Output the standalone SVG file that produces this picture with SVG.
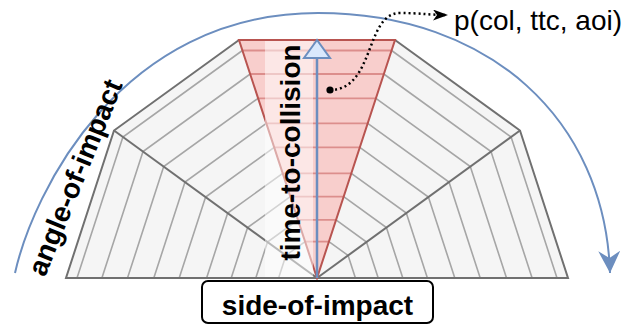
<svg xmlns="http://www.w3.org/2000/svg" width="637" height="328" viewBox="0 0 637 328">
<style>
.grey{fill:#f5f5f5;stroke:none}
.ring{fill:none;stroke:#a6a6a6;stroke-width:1.6}
.edge{fill:none;stroke:#707070;stroke-width:2;stroke-linejoin:miter}
.rring{fill:none;stroke:#dc8e8c;stroke-width:1.8}
.redge{fill:none;stroke:#b85450;stroke-width:2}
.lbl{font-family:"Liberation Sans",Arial,Helvetica,sans-serif;font-size:28px;fill:#000}
.b{font-weight:bold}
</style>
<defs>
<marker id="blueHead" viewBox="0 0 22 22" refX="22" refY="11" markerWidth="22" markerHeight="22" markerUnits="userSpaceOnUse" orient="auto">
<path d="M0,0 L22,11 L0,22 L7,11 Z" fill="#6c8ebf" stroke="none"/>
</marker>
<marker id="blackHead" viewBox="0 0 15 11" refX="15" refY="5.5" markerWidth="15" markerHeight="11" markerUnits="userSpaceOnUse" orient="auto">
<path d="M0,0 L15,5.5 L0,11 L4,5.5 Z" fill="#000" stroke="none"/>
</marker>
</defs>

<g id="grey-sectors">
<polygon class="grey" points="317,278 66,278 114,130.5 239,40 395,40 520,130.5 568,278"/>
<g id="grey-rings">
<polyline class="ring" points="77,278 122.9,137 242.4,50.5"/>
<polyline class="ring" points="101.9,278 143,151.6 250.2,74"/>
<polyline class="ring" points="127.5,278 163.7,166.6 258.1,98.3"/>
<polyline class="ring" points="153.8,278 185,182.1 266.3,123.3"/>
<polyline class="ring" points="179.2,278 205.6,197 274.2,147.3"/>
<polyline class="ring" points="206.6,278 227.7,213.1 282.7,173.3"/>
<polyline class="ring" points="231.2,278 247.6,227.6 290.3,196.6"/>
<polyline class="ring" points="255.8,278 267.5,242 298,219.9"/>
<polyline class="ring" points="278.6,278 285.9,255.4 305.1,241.6"/>
<polyline class="ring" points="557,278 511.1,137 391.6,50.5"/>
<polyline class="ring" points="532.1,278 491,151.6 383.8,74"/>
<polyline class="ring" points="506.5,278 470.3,166.6 375.9,98.3"/>
<polyline class="ring" points="480.2,278 449,182.1 367.7,123.3"/>
<polyline class="ring" points="454.8,278 428.4,197 359.8,147.3"/>
<polyline class="ring" points="427.4,278 406.3,213.1 351.3,173.3"/>
<polyline class="ring" points="402.8,278 386.4,227.6 343.7,196.6"/>
<polyline class="ring" points="378.2,278 366.5,242 336,219.9"/>
<polyline class="ring" points="355.4,278 348.1,255.4 328.9,241.6"/>
</g>
<polyline class="edge" points="239,40 114,130.5 66,278 568,278 520,130.5 395,40"/>
<line class="edge" x1="317" y1="278" x2="114" y2="130.5"/>
<line class="edge" x1="317" y1="278" x2="520" y2="130.5"/>
</g>

<g id="ttc-sector">
<polygon points="317,278 239,40 395,40" fill="#f8cecc" stroke="none"/>
<g id="red-rings">
<line class="rring" x1="242.4" y1="50.5" x2="391.6" y2="50.5"/>
<line class="rring" x1="250.2" y1="74" x2="383.8" y2="74"/>
<line class="rring" x1="258.1" y1="98.3" x2="375.9" y2="98.3"/>
<line class="rring" x1="266.3" y1="123.3" x2="367.7" y2="123.3"/>
<line class="rring" x1="274.2" y1="147.3" x2="359.8" y2="147.3"/>
<line class="rring" x1="282.7" y1="173.3" x2="351.3" y2="173.3"/>
<line class="rring" x1="290.3" y1="196.6" x2="343.7" y2="196.6"/>
<line class="rring" x1="298" y1="219.9" x2="336" y2="219.9"/>
<line class="rring" x1="305.1" y1="241.6" x2="328.9" y2="241.6"/>
</g>
<polygon class="redge" points="317,278 239,40 395,40"/>
</g>

<rect id="label-band" x="265" y="41" width="48" height="236" fill="#ffffff" fill-opacity="0.5"/>

<g id="ttc-axis">
<line x1="317" y1="278" x2="317" y2="58" stroke="#6c8ebf" stroke-width="2.5"/>
<polygon points="317,40 304,58 330,58" fill="#dae8fc" stroke="#6c8ebf" stroke-width="2" stroke-linejoin="miter"/>
</g>

<g id="connectors">
<path d="M15,273 C33,193 120,13 318,13 C490,13 605,120 610,273" fill="none" stroke="#6c8ebf" stroke-width="2" marker-end="url(#blueHead)"/>
<path d="M330,90 C375,90 365,13 400,13 C420,13 430,15 448,15" fill="none" stroke="#000" stroke-width="2.5" stroke-dasharray="2 3" marker-end="url(#blackHead)"/>
<circle cx="330" cy="90" r="3.6" fill="#000"/>
</g>

<g id="label-ttc">
<text class="lbl b" transform="translate(300,152.5) rotate(-90)" text-anchor="middle">time-to-collision</text>
</g>
<g id="label-aoi">
<text class="lbl b" transform="translate(84,181) rotate(-68)" text-anchor="middle">angle-of-impact</text>
</g>
<g id="label-p">
<text class="lbl" x="454" y="30">p(col, ttc, aoi)</text>
</g>
<g id="label-side">
<rect x="202" y="281" width="231" height="42" rx="6" ry="6" fill="#fff" stroke="#000" stroke-width="2"/>
<text class="lbl b" x="317.5" y="314.5" text-anchor="middle">side-of-impact</text>
</g>
</svg>
